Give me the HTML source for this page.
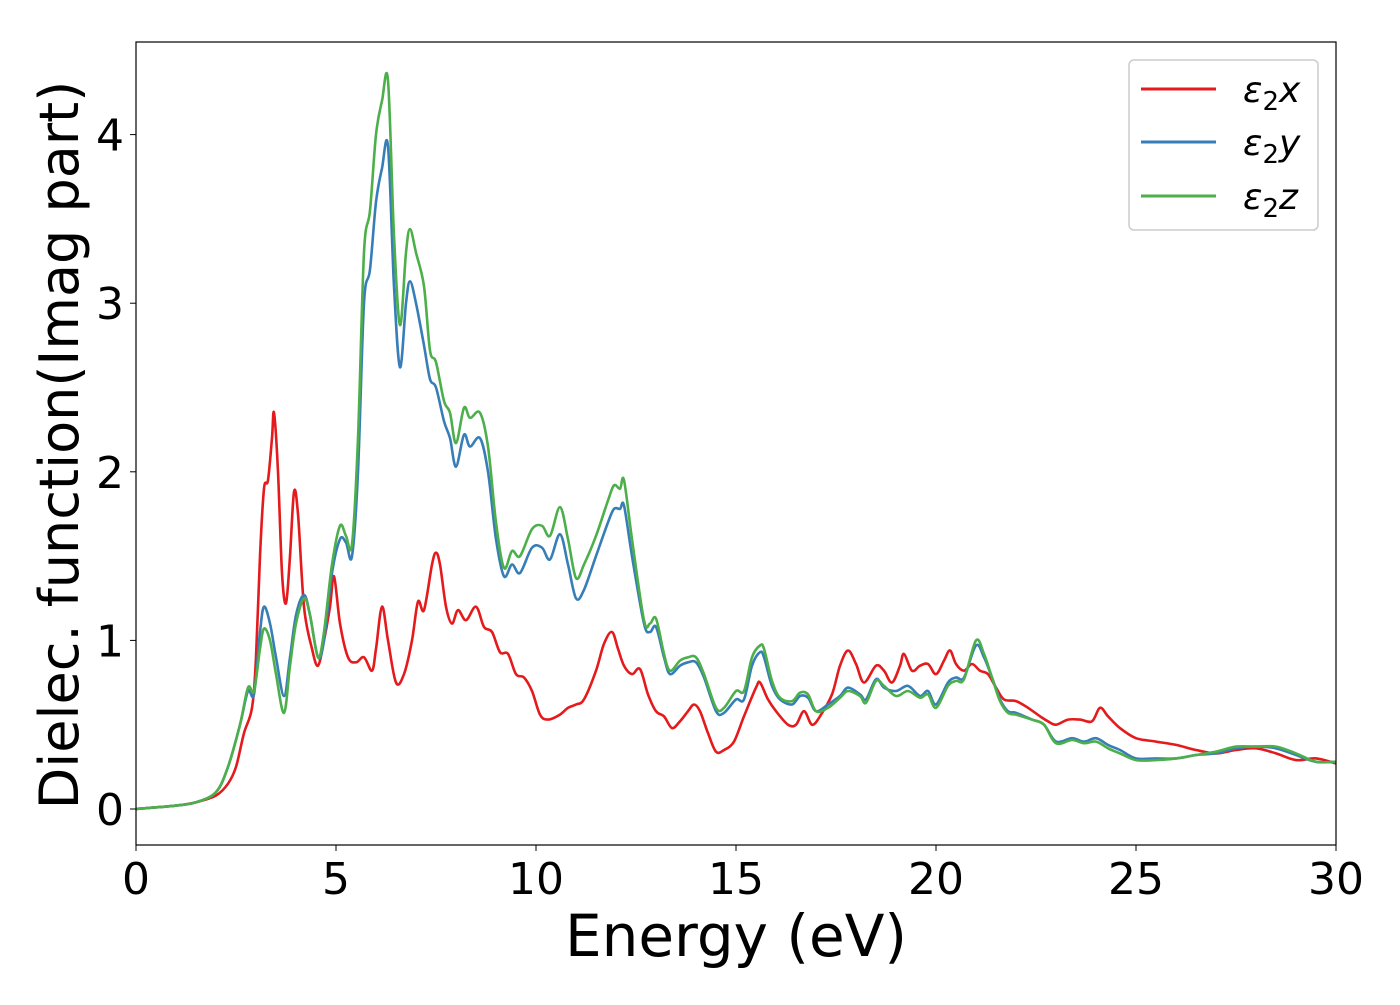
<!DOCTYPE html>
<html><head><meta charset="utf-8"><style>
body{margin:0;background:#fff;}
svg text{font-family:"DejaVu Sans","Liberation Sans",sans-serif;fill:#000;}
</style></head><body>
<svg id="chart" width="1400" height="1000" xmlns="http://www.w3.org/2000/svg">
<rect x="0" y="0" width="1400" height="1000" fill="#fff"/>
<g id="series"></g>
<rect x="136" y="42" width="1200" height="803" fill="none" stroke="#000" stroke-width="1.2"/>
<g id="xticks"></g>
<g id="yticks"></g>
<text x="736" y="956" font-size="58" text-anchor="middle">Energy (eV)</text>
<text transform="translate(78,445) rotate(-90)" font-size="54" text-anchor="middle">Dielec. function(Imag part)</text>
<g>
<rect x="1129" y="60" width="189" height="170" rx="5" fill="#fff" stroke="#ccc" stroke-width="1.5"/>
<line x1="1141" y1="89" x2="1216" y2="89" stroke="#e41a1c" stroke-width="3"/>
<line x1="1141" y1="142" x2="1216" y2="142" stroke="#377eb8" stroke-width="3"/>
<line x1="1141" y1="196" x2="1216" y2="196" stroke="#4daf4a" stroke-width="3"/>
<text x="1243" y="102" font-size="36" font-style="italic">ε<tspan font-style="normal" font-size="26" dy="8">2</tspan><tspan dy="-8">x</tspan></text>
<text x="1243" y="155" font-size="36" font-style="italic">ε<tspan font-style="normal" font-size="26" dy="8">2</tspan><tspan dy="-8">y</tspan></text>
<text x="1243" y="209" font-size="36" font-style="italic">ε<tspan font-style="normal" font-size="26" dy="8">2</tspan><tspan dy="-8">z</tspan></text>
</g>
</svg>
<script>
const xTicks=[0,5,10,15,20,25,30];
const yTicks=[0,1,2,3,4];
const redX=[0,1,1.5,2,2.3,2.5,2.7,2.9,3.0,3.1,3.2,3.3,3.4,3.45,3.55,3.65,3.75,3.85,3.95,4.05,4.2,4.4,4.55,4.7,4.85,4.95,5.1,5.3,5.5,5.7,5.9,6.0,6.15,6.3,6.5,6.7,6.9,7.05,7.2,7.4,7.5,7.6,7.75,7.9,8.05,8.25,8.5,8.7,8.9,9.1,9.3,9.5,9.7,9.9,10.1,10.3,10.6,10.8,11.0,11.2,11.5,11.7,11.9,12.05,12.2,12.4,12.6,12.8,13.0,13.2,13.4,13.6,13.8,13.95,14.1,14.3,14.5,14.7,14.95,15.2,15.5,15.6,15.8,16.0,16.3,16.5,16.7,16.9,17.1,17.4,17.6,17.8,18.0,18.2,18.5,18.7,18.9,19.1,19.2,19.4,19.6,19.8,20.0,20.2,20.35,20.5,20.7,20.9,21.1,21.3,21.5,21.7,22.0,22.3,22.6,22.8,23.0,23.3,23.6,23.9,24.1,24.3,24.6,25.0,25.5,26,26.5,27,27.5,28,28.5,29,29.5,30];
const redY=[0,0.02,0.04,0.08,0.15,0.25,0.45,0.6,0.9,1.5,1.9,1.95,2.2,2.35,2.0,1.4,1.22,1.5,1.88,1.75,1.2,0.95,0.85,1.0,1.2,1.38,1.1,0.9,0.87,0.9,0.82,0.95,1.2,1.0,0.75,0.8,1.0,1.23,1.18,1.45,1.52,1.45,1.2,1.1,1.18,1.12,1.2,1.08,1.05,0.93,0.92,0.8,0.78,0.7,0.56,0.53,0.56,0.6,0.62,0.65,0.82,0.98,1.05,0.95,0.85,0.8,0.83,0.68,0.58,0.55,0.48,0.52,0.58,0.62,0.58,0.45,0.34,0.35,0.4,0.55,0.72,0.75,0.65,0.58,0.5,0.5,0.58,0.5,0.55,0.68,0.85,0.94,0.86,0.75,0.85,0.82,0.75,0.85,0.92,0.82,0.85,0.86,0.8,0.88,0.94,0.86,0.82,0.86,0.82,0.8,0.72,0.65,0.64,0.6,0.55,0.52,0.5,0.53,0.53,0.52,0.6,0.55,0.48,0.42,0.4,0.38,0.35,0.33,0.35,0.36,0.33,0.29,0.3,0.27];
const blueX=[0,1,1.5,2,2.3,2.6,2.8,2.95,3.1,3.2,3.35,3.5,3.7,3.85,4.0,4.2,4.35,4.55,4.7,4.9,5.1,5.25,5.4,5.55,5.7,5.85,6.0,6.15,6.3,6.45,6.6,6.75,6.85,7.0,7.2,7.35,7.5,7.7,7.85,8.0,8.2,8.35,8.6,8.8,9.0,9.2,9.4,9.6,9.9,10.15,10.35,10.6,10.8,11.0,11.2,11.5,11.8,11.95,12.1,12.2,12.4,12.7,12.85,13.0,13.2,13.35,13.6,13.8,14.0,14.2,14.5,14.7,15.0,15.2,15.4,15.6,15.7,15.9,16.1,16.4,16.6,16.8,17.0,17.3,17.6,17.8,18.1,18.25,18.5,18.7,19.0,19.3,19.6,19.8,20.0,20.3,20.5,20.7,21.0,21.2,21.4,21.6,21.8,22.0,22.4,22.7,23.0,23.4,23.7,24.0,24.3,24.6,25.0,25.5,26,26.5,27,27.5,28,28.5,29,29.5,30];
const blueY=[0,0.02,0.04,0.1,0.25,0.5,0.7,0.68,1.05,1.2,1.1,0.9,0.67,0.9,1.15,1.27,1.15,0.9,1.0,1.4,1.6,1.58,1.5,2.0,3.0,3.2,3.6,3.8,3.93,3.1,2.62,3.0,3.13,3.0,2.75,2.55,2.5,2.3,2.2,2.03,2.22,2.15,2.2,2.0,1.6,1.38,1.45,1.4,1.55,1.55,1.48,1.63,1.45,1.25,1.3,1.5,1.7,1.78,1.78,1.8,1.5,1.1,1.05,1.08,0.9,0.8,0.85,0.87,0.87,0.78,0.58,0.57,0.65,0.65,0.85,0.93,0.9,0.73,0.65,0.62,0.67,0.66,0.58,0.62,0.67,0.72,0.68,0.65,0.77,0.72,0.7,0.73,0.67,0.7,0.62,0.75,0.78,0.78,0.97,0.9,0.78,0.65,0.58,0.57,0.53,0.5,0.4,0.42,0.4,0.42,0.38,0.35,0.3,0.3,0.3,0.32,0.33,0.36,0.37,0.36,0.32,0.28,0.28];
const greenX=blueX;
const greenY=[0,0.02,0.04,0.1,0.25,0.5,0.72,0.7,0.95,1.07,1.0,0.8,0.57,0.85,1.1,1.25,1.15,0.9,1.05,1.45,1.68,1.62,1.57,2.2,3.3,3.55,4.0,4.2,4.32,3.4,2.87,3.3,3.44,3.3,3.1,2.72,2.65,2.42,2.35,2.17,2.38,2.32,2.35,2.15,1.7,1.43,1.53,1.5,1.66,1.68,1.62,1.79,1.6,1.37,1.45,1.62,1.83,1.92,1.9,1.95,1.6,1.12,1.1,1.13,0.92,0.82,0.88,0.9,0.9,0.8,0.6,0.6,0.7,0.7,0.9,0.97,0.95,0.76,0.66,0.64,0.69,0.68,0.58,0.6,0.66,0.7,0.67,0.63,0.76,0.73,0.67,0.7,0.66,0.68,0.6,0.73,0.76,0.77,1.0,0.92,0.78,0.64,0.57,0.56,0.53,0.5,0.39,0.41,0.39,0.4,0.36,0.33,0.29,0.29,0.3,0.32,0.34,0.37,0.37,0.37,0.33,0.28,0.28];
const X0=136,X1=1336,Y0PX=809,PXU=168.6;
const sx=v=>X0+(v-xTicks[0])/(xTicks[xTicks.length-1]-xTicks[0])*(X1-X0);
const sy=v=>Y0PX-v*PXU;
const NS='http://www.w3.org/2000/svg';
function path(xs,ys){
  const p=xs.map((x,i)=>[sx(x),sy(ys[i])]);
  let d='M'+p[0][0].toFixed(1)+','+p[0][1].toFixed(1);
  for(let i=0;i<p.length-1;i++){
    const a=p[Math.max(0,i-1)],b=p[i],c=p[i+1],e=p[Math.min(p.length-1,i+2)];
    const c1=[b[0]+(c[0]-a[0])/6,b[1]+(c[1]-a[1])/6],c2=[c[0]-(e[0]-b[0])/6,c[1]-(e[1]-b[1])/6];
    d+='C'+c1[0].toFixed(1)+','+c1[1].toFixed(1)+' '+c2[0].toFixed(1)+','+c2[1].toFixed(1)+' '+c[0].toFixed(1)+','+c[1].toFixed(1);
  }
  return d;
}
const g=document.getElementById('series');
[[redX,redY,'#e41a1c','series-eps2x'],[blueX,blueY,'#377eb8','series-eps2y'],[greenX,greenY,'#4daf4a','series-eps2z']].forEach(s=>{
  const el=document.createElementNS(NS,'path');
  el.setAttribute('d',path(s[0],s[1]));
  el.setAttribute('fill','none');el.setAttribute('stroke',s[2]);el.setAttribute('stroke-width','2.6');
  
  
  g.appendChild(el);
});
const xg=document.getElementById('xticks');
xTicks.forEach(t=>{
  const l=document.createElementNS(NS,'line');
  l.setAttribute('x1',sx(t));l.setAttribute('x2',sx(t));l.setAttribute('y1',845);l.setAttribute('y2',851);l.setAttribute('stroke','#000');
  
  
  xg.appendChild(l);
  const tx=document.createElementNS(NS,'text');
  tx.setAttribute('x',sx(t));tx.setAttribute('y',894);tx.setAttribute('font-size','44');tx.setAttribute('text-anchor','middle');
  tx.textContent=t;
  
  
  xg.appendChild(tx);
});
const yg=document.getElementById('yticks');
yTicks.forEach(t=>{
  const l=document.createElementNS(NS,'line');
  l.setAttribute('x1',130);l.setAttribute('x2',136);l.setAttribute('y1',sy(t));l.setAttribute('y2',sy(t));l.setAttribute('stroke','#000');
  
  
  yg.appendChild(l);
  const tx=document.createElementNS(NS,'text');
  tx.setAttribute('x',124);tx.setAttribute('y',sy(t)+16);tx.setAttribute('font-size','44');tx.setAttribute('text-anchor','end');
  tx.textContent=t;
  
  
  yg.appendChild(tx);
});
</script>
</body></html>
